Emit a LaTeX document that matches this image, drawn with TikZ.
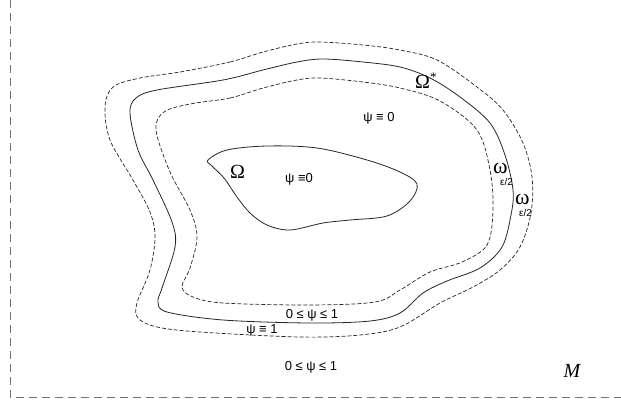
\documentclass[tikz,border=0pt]{standalone}
\usepackage{fontspec}
\newfontfamily\lsans{Liberation Sans}
\newfontfamily\lserif{Liberation Serif}
\begin{document}
\begin{tikzpicture}[x=1pt,y=-1pt,
  framel/.style={draw=black!55, line width=0.8pt, dash pattern=on 8pt off 5pt},
  dcurve/.style={draw=black!85, line width=0.7pt, dash pattern=on 4pt off 2pt},
  scurve/.style={draw=black!85, line width=0.8pt},
  lbl/.style={font=\lsans\fontsize{13}{13}\selectfont, inner sep=0pt, anchor=base},
  greek/.style={font=\lserif\fontsize{20}{20}\selectfont, inner sep=0pt, anchor=base west, text depth=0pt},
  omg/.style={font=\lserif\fontsize{22}{22}\selectfont, inner sep=0pt, anchor=base west, text depth=0pt},
  subl/.style={font=\lsans\fontsize{10}{10}\selectfont, inner sep=0pt, anchor=base west, text height=6.5pt, text depth=0pt}]
\useasboundingbox (0,0) rectangle (621,407);
% frame
\coordinate (ftop) at (10,0);
\coordinate (fcorner) at (10,397);
\coordinate (fright) at (621,397);
\draw[framel] (ftop) -- (fcorner) -- (fright);
% outer dashed
\draw[dcurve] plot[smooth cycle, tension=0.55] coordinates {
 (180,72) (230,62) (263,52) (297,44) (320,42) (363,45) (400,50) (437,60)
 (477,87) (503,110) (523,143) (532,177) (531,213) (520,247) (500,270)
 (473,287) (440,303) (400,327) (360,335) (300,337) (200,332) (157,327)
 (138,318) (137,303) (150,270) (155,237) (150,212) (133,180) (110,140)
 (105,107) (113,87) (140,78)};
% solid Omega*
\draw[scurve] plot[smooth cycle, tension=0.55] coordinates {
 (157,90) (223,80) (263,70) (297,62) (323,59) (363,62) (400,67) (430,78)
 (460,97) (490,123) (505,155) (513,190) (511,215) (502,247) (480,268)
 (447,281) (423,293) (400,313) (370,321) (310,323) (223,320) (167,312)
 (158,302) (162,288) (175,247) (172,222) (153,180) (138,150) (130,113)
 (136,98)};
% inner dashed
\draw[dcurve] plot[smooth cycle, tension=0.55] coordinates {
 (190,104) (230,98) (263,88) (297,80) (320,78) (363,82) (400,88) (440,101)
 (477,130) (490,170) (493,210) (487,245) (462,262) (430,272) (400,290)
 (375,302) (310,305) (223,303) (193,297) (182,287) (190,268) (197,237)
 (190,210) (170,172) (156,130) (164,112)};
% Omega
\draw[scurve] plot[smooth cycle, tension=0.55] coordinates {
 (208,160) (227,150) (267,146) (317,148) (367,160) (400,172) (417,184)
 (410,201) (387,216) (350,220) (323,223) (290,230) (267,225) (250,213)
 (237,197) (224,178) (212,166)};
% labels
\node[greek] (omstar) at (415,88) {Ω\raisebox{7pt}{\fontsize{13}{13}\selectfont *}};
\node[greek] (om) at (230,178) {Ω};
\node[omg] (w1) at (493,173) {ω};
\node[subl] (w1s) at (500,185) {ε/2};
\node[omg] (w2) at (515,204) {ω};
\node[subl] (w2s) at (519,216) {ε/2};
\node[lbl] (p0a) at (379,121) {ψ ≡ 0};
\node[lbl] (p0b) at (299,182) {ψ ≡0};
\node[lbl] (r1) at (312,318) {0 ≤ ψ ≤ 1};
\node[lbl] (p1) at (262,333) {ψ ≡ 1};
\node[lbl] (r2) at (311,370) {0 ≤ ψ ≤ 1};
\node[font=\lserif\itshape\fontsize{20}{20}\selectfont, inner sep=0pt, anchor=base] (M) at (572,377) {M};
\end{tikzpicture}
\end{document}
